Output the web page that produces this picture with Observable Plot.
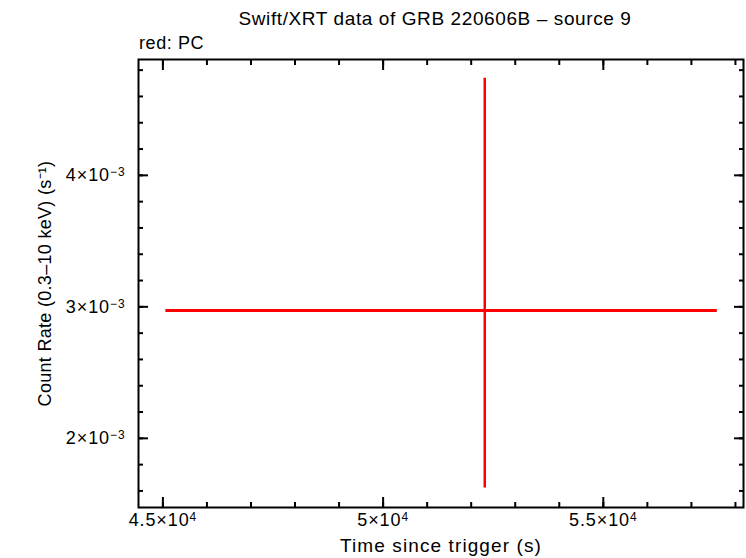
<!DOCTYPE html>
<html>
<head>
<meta charset="utf-8">
<script src="https://cdn.jsdelivr.net/npm/d3@7"></script>
<script src="https://cdn.jsdelivr.net/npm/@observablehq/plot@0.6"></script>
<style>
  html, body { margin: 0; padding: 0; background: #fff; }
  #wrap { position: relative; width: 746px; height: 558px; font-family: "Liberation Sans", Arial, sans-serif; color: #000; }
  #title { position: absolute; left: 0; top: 8px; width: 870px; text-align: center; font-size: 19px; letter-spacing: 0.6px; }
  #sub { position: absolute; left: 139px; top: 33px; font-size: 18px; letter-spacing: 0.6px; }
  #chart { position: absolute; left: 0; top: 0; }
</style>
</head>
<body>
<div id="wrap">
  <div id="chart"></div>
  <div id="title">Swift/XRT data of GRB 220606B – source 9</div>
  <div id="sub">red: PC</div>
</div>
<script>
// ---- data ----
const time   = [52308];
const timeLo = [45068];
const timeHi = [57588];
const rate   = [0.002973];
const rateLo = [0.001622];
const rateHi = [0.004739];

const xDomain = [44446, 58183];
const yDomain = [0.001474, 0.004881];

const xMajor = [45000, 50000, 55000];
const xMantissa = ["4.5", "5", "5.5"];
const xExponent = ["4", "4", "4"];
const xMinor = [45000, 46000, 47000, 48000, 49000, 50000, 51000, 52000, 53000, 54000, 55000, 56000, 57000, 58000];

const yMajor = [0.002, 0.003, 0.004];
const yMantissa = ["2", "3", "4"];
const yExponent = ["−3", "−3", "−3"];
const yMinor = [0.0016, 0.0018, 0.0020, 0.0022, 0.0024, 0.0026, 0.0028, 0.0030, 0.0032, 0.0034, 0.0036, 0.0038, 0.0040, 0.0042, 0.0044, 0.0046, 0.0048];

const xTitle = "Time since trigger (s)";
const yTitle = "Count Rate (0.3–10 keV) (s⁻¹)";

const rows = time.map((t, i) => ({t, t0: timeLo[i], t1: timeHi[i], r: rate[i], r0: rateLo[i], r1: rateHi[i]}));

const RED = "#ff0000";
const majorLen = 10, minorLen = 5;

function inwardX(ticks, anchor, len) {
  return Plot.axisX(ticks, {anchor, tickSize: len, dy: anchor === "bottom" ? -len : len,
    fill: "none", label: null, strokeWidth: 2});
}
function inwardY(ticks, anchor, len) {
  return Plot.axisY(ticks, {anchor, tickSize: len, dx: anchor === "left" ? len : -len,
    fill: "none", label: null, strokeWidth: 2});
}

const chart = Plot.plot({
  width: 746,
  height: 558,
  marginLeft: 138,
  marginRight: 3,
  marginTop: 59,
  marginBottom: 51,
  style: {fontFamily: "Liberation Sans, Arial, sans-serif", fontSize: "18px", color: "#000", background: "transparent"},
  x: {type: "linear", domain: xDomain},
  y: {type: "linear", domain: yDomain},
  marks: [
    Plot.ruleY(rows, {y: "r", x1: "t0", x2: "t1", stroke: RED, strokeWidth: 3}),
    Plot.ruleX(rows, {x: "t", y1: "r0", y2: "r1", stroke: RED, strokeWidth: 2.5}),
    inwardX(xMinor, "bottom", minorLen),
    inwardX(xMajor, "bottom", majorLen),
    inwardX(xMinor, "top", minorLen),
    inwardX(xMajor, "top", majorLen),
    inwardY(yMinor, "left", minorLen),
    inwardY(yMajor, "left", majorLen),
    inwardY(yMinor, "right", minorLen),
    inwardY(yMajor, "right", majorLen),
    Plot.axisX({anchor: "bottom", ticks: xMajor, tickSize: 0, tickPadding: 6,
      tickFormat: d => { const i = xMajor.indexOf(d); return xMantissa[i] + "×10" + xExponent[i]; },
      fontSize: 18, label: xTitle, labelAnchor: "center", labelArrow: "none", labelOffset: 44}),
    Plot.axisY({anchor: "left", ticks: yMajor, tickSize: 0, tickPadding: 13,
      tickFormat: d => { const i = yMajor.indexOf(d); return yMantissa[i] + "×10" + yExponent[i]; },
      fontSize: 18, label: yTitle, labelAnchor: "center", labelArrow: "none", labelOffset: 100}),
    Plot.frame({stroke: "#000", strokeWidth: 2})
  ]
});

// superscript exponents on tick labels
const NS = "http://www.w3.org/2000/svg";
function supLabels(selector, mant, exps) {
  chart.querySelectorAll(selector).forEach((t, i) => {
    if (i >= mant.length) return;
    t.textContent = "";
    t.setAttribute("font-size", "18px");
    t.setAttribute("letter-spacing", "0.9");
    const a = document.createElementNS(NS, "tspan");
    a.textContent = mant[i] + "×10";
    const b = document.createElementNS(NS, "tspan");
    b.textContent = exps[i];
    b.setAttribute("dy", "-0.4em");
    b.setAttribute("font-size", "12px");
    t.append(a, b);
  });
}
supLabels('g[aria-label="x-axis tick label"] text', xMantissa, xExponent);
supLabels('g[aria-label="y-axis tick label"] text', yMantissa, yExponent);

chart.querySelectorAll('g[aria-label="x-axis label"] text').forEach(t => {
  t.setAttribute("font-size", "19px"); t.setAttribute("letter-spacing", "1.1");
});
chart.querySelectorAll('g[aria-label="y-axis label"] text').forEach(t => {
  t.setAttribute("font-size", "18px"); t.setAttribute("letter-spacing", "0.3");
});

document.getElementById("chart").appendChild(chart);
</script>
</body>
</html>
